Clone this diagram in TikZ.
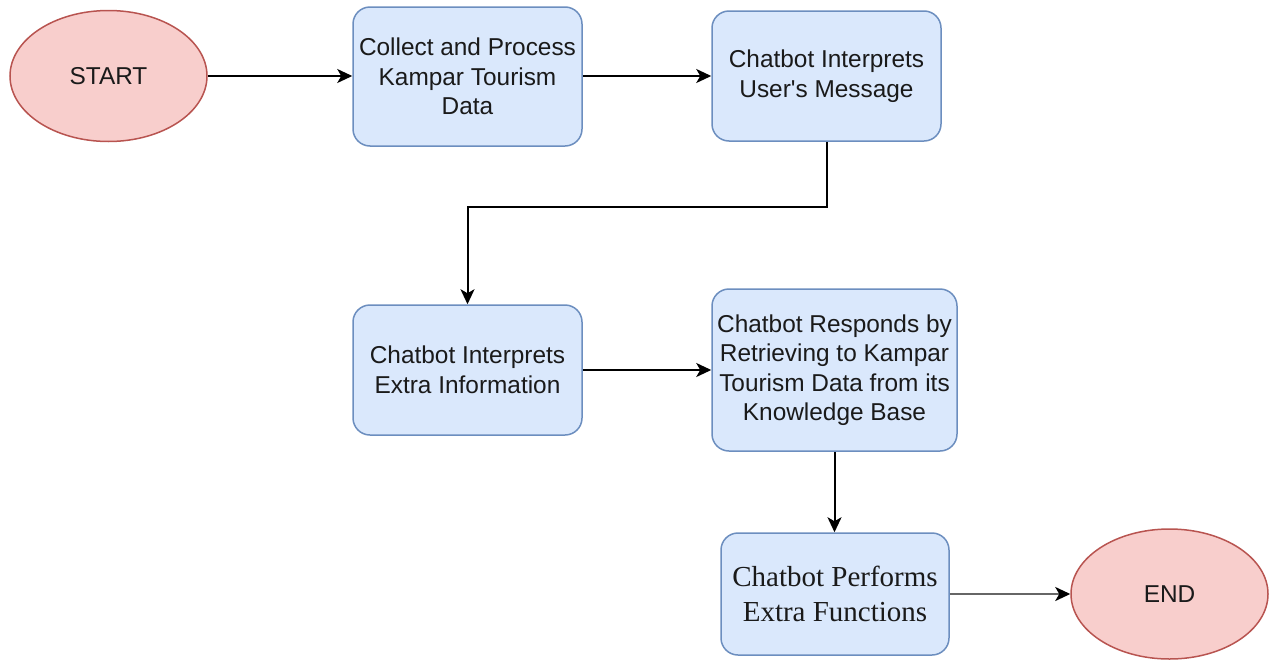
\documentclass[tikz,border=0pt]{standalone}
\usepackage{fontspec}
\setmainfont{Liberation Sans}
\newfontfamily\serifbox{Liberation Serif}
\usetikzlibrary{shapes.geometric,arrows.meta}
\definecolor{boxfill}{HTML}{DAE8FC}
\definecolor{boxline}{HTML}{6C8EBF}
\definecolor{ovfill}{HTML}{F8CECC}
\definecolor{ovline}{HTML}{B85450}
\definecolor{txt}{HTML}{1A1A1A}
\tikzset{
  procbox/.style={draw=boxline, fill=boxfill, line width=1.5pt, rounded corners=17pt,
    align=center, inner sep=0pt, text=txt,
    font=\fontsize{24.4}{29.5}\selectfont},
  terminal/.style={ellipse, draw=ovline, fill=ovfill, line width=1.5pt, inner sep=0pt,
    text=txt, font=\fontsize{24.4}{29.5}\selectfont},
  flow/.style={draw=black, line width=2pt, -{Stealth[length=15pt,width=14pt,inset=4pt]}},
  flowgray/.style={draw=black!60, line width=2.4pt, -{Stealth[length=15pt,width=14pt,inset=4pt,color=black]}}
}
\begin{document}
\begin{tikzpicture}[x=1pt,y=-1pt]
\useasboundingbox (0,0) rectangle (1271,659);
\node[terminal, minimum width=197pt, minimum height=131pt] (start) at (108.5,76) {START};
\node[procbox, minimum width=229pt, minimum height=139pt] (b1) at (467.5,76.5) {Collect and Process\\Kampar Tourism\\Data};
\node[procbox, minimum width=229pt, minimum height=130pt] (b2) at (826.5,76) {Chatbot Interprets\\User\textquotesingle s Message};
\node[procbox, minimum width=229pt, minimum height=130pt] (b3) at (467.5,370) {Chatbot Interprets\\Extra Information};
\node[procbox, minimum width=245pt, minimum height=162pt] (b4) at (834.5,370) {Chatbot Responds by\\Retrieving to Kampar\\Tourism Data from its\\Knowledge Base};
\node[procbox, minimum width=228pt, minimum height=122pt, font=\serifbox\fontsize{29}{35}\selectfont] (b5) at (835,594) {Chatbot Performs\\Extra Functions};
\node[terminal, minimum width=197pt, minimum height=130pt] (end) at (1169.5,594) {END};
\coordinate (k1) at (826.5,207);
\coordinate (k2) at (467.5,207);
\draw[flow] (start.east) -- (start.east -| b1.west);
\draw[flow] (b2.west -| b1.east) -- (b2.west);
\draw[flow] (b2.south) -- (k1) -- (k2) -- (b3.north);
\draw[flow] (b3.east) -- (b3.east -| b4.west);
\draw[flow] (b4.south) -- (b4.south |- b5.north);
\draw[flowgray] (b5.east) -- (b5.east -| end.west);
\end{tikzpicture}
\end{document}
